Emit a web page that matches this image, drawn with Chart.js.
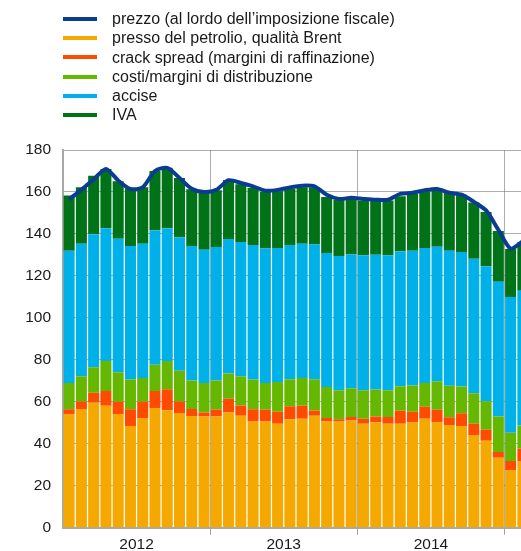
<!DOCTYPE html>
<html>
<head>
<meta charset="utf-8">
<script src="https://cdn.jsdelivr.net/npm/chart.js@4/dist/chart.umd.min.js"></script>
<style>
  html, body { margin: 0; padding: 0; overflow: hidden; background: #fff; }
  #wrap { position: relative; width: 521px; height: 551px; overflow: hidden; }
  #chart { position: absolute; left: 0; top: 0; }
  #legend { position: absolute; left: 63px; top: 9px; font-family: "Liberation Sans", Arial, sans-serif; font-size: 16px; color: #1a1a1a; }
  .item { height: 19.3px; line-height: 19.3px; white-space: nowrap; }
  .swatch { display: inline-block; width: 34px; height: 4px; vertical-align: middle; margin-right: 15px; position: relative; top: -1px; }
</style>
</head>
<body>
<div id="wrap">
  <canvas id="chart" width="529" height="551"></canvas>
  <div id="legend"></div>
</div>
<script>
// months Jan 2012 - Feb 2015 (last one cut by the picture edge)
let years = ['2012', '2013', '2014', '2015'];
let monthNames = ['gen', 'feb', 'mar', 'apr', 'mag', 'giu', 'lug', 'ago', 'set', 'ott', 'nov', 'dic'];
let nMonths = 38;

let brent = [54.2, 56.6, 59.5, 58.1, 54.2, 48.5, 52.3, 57.1, 56.0, 54.7, 53.2, 53.0,
             53.0, 54.9, 53.3, 50.6, 50.6, 49.5, 51.7, 51.9, 53.3, 50.6, 50.6, 51.1,
             49.5, 50.1, 49.5, 49.5, 50.1, 51.9, 50.4, 49.0, 48.5, 44.2, 41.4, 33.3,
             27.5, 31.8];
let crack = [2.3, 3.5, 4.8, 7.1, 5.8, 8.0, 7.7, 8.1, 10.0, 5.4, 3.4, 1.9,
             3.3, 6.5, 4.9, 5.9, 5.6, 5.8, 6.2, 6.2, 2.5, 1.7, 1.1, 1.6,
             2.4, 2.9, 3.2, 6.2, 5.2, 5.8, 5.8, 3.6, 6.0, 5.3, 5.3, 2.8,
             4.3, 5.9];
let distribuzione = [12.4, 12.1, 12.2, 14.2, 14.1, 14.1, 11.4, 12.4, 13.4, 14.7, 13.5, 14.0,
                     13.8, 12.1, 14.0, 14.1, 12.7, 14.1, 12.9, 13.3, 15.0, 14.7, 13.8, 13.8,
                     13.6, 12.9, 12.8, 11.7, 12.5, 11.3, 13.6, 15.1, 12.8, 14.6, 13.6, 16.9,
                     13.5, 11.0];
let accise = [63.1, 63.1, 63.3, 63.3, 63.6, 63.7, 63.9, 64.1, 63.3, 63.6, 64.2, 63.6,
              63.7, 64.1, 64.0, 64.1, 64.1, 63.9, 63.9, 63.9, 64.2, 63.9, 64.0, 63.7,
              64.3, 64.2, 64.3, 64.3, 64.2, 64.3, 64.1, 64.3, 64.1, 64.1, 64.3, 64.2,
              64.7, 64.2];
let iva = [26.3, 26.9, 27.9, 28.3, 27.4, 27.4, 26.9, 28.3, 28.9, 28.3, 27.0, 27.0,
           27.0, 28.1, 27.5, 27.2, 27.0, 27.0, 26.8, 26.9, 27.1, 26.7, 26.8, 26.6,
           26.1, 25.6, 26.1, 26.2, 27.1, 27.0, 27.2, 27.5, 27.3, 26.8, 25.9, 24.2,
           22.8, 23.2];
let prezzo = [156.5, 161.0, 166.0, 171.0, 165.5, 161.4, 162.2, 170.0, 171.5, 166.7, 161.5, 160.0,
              161.0, 165.6, 164.3, 162.7, 160.6, 161.0, 162.2, 163.0, 162.7, 158.7, 156.7, 157.2,
              156.7, 156.3, 156.3, 159.1, 159.6, 160.8, 161.4, 159.6, 158.7, 155.3, 151.2, 142.0,
              133.0, 136.5];

let yTicks = [0, 20, 40, 60, 80, 100, 120, 140, 160, 180];

let labels = [];
for (let i = 0; i < nMonths; i++) {
    labels.push(monthNames[i % 12] + ' ' + years[Math.floor(i / 12)]);
}

let gridColor = 'rgba(105, 105, 105, 0.55)';
let fontFamily = '"Liberation Sans", Arial, sans-serif';

function barSet(label, data, color) {
    return {
        type: 'bar',
        label: label,
        data: data,
        backgroundColor: color,
        borderWidth: 0,
        stack: 'comp',
        order: 1,
        barPercentage: 0.9,
        categoryPercentage: 1.0
    };
}

let datasets = [
    {
        type: 'line',
        label: 'prezzo (al lordo dell\u2019imposizione fiscale)',
        data: prezzo,
        borderColor: '#0a3c91',
        backgroundColor: '#0a3c91',
        borderWidth: 4,
        pointRadius: 0,
        tension: 0.25,
        stack: 'price',
        order: 0
    },
    barSet('presso del petrolio, qualit\u00e0 Brent', brent, '#f5a800'),
    barSet('crack spread (margini di raffinazione)', crack, '#ff4b00'),
    barSet('costi/margini di distribuzione', distribuzione, '#66b700'),
    barSet('accise', accise, '#00b0e8'),
    barSet('IVA', iva, '#007319')
];

let ctx = document.getElementById('chart').getContext('2d');
let chart = new Chart(ctx, {
    type: 'bar',
    data: { labels: labels, datasets: datasets },
    options: {
        responsive: false,
        animation: false,
        devicePixelRatio: 1,
        layout: { padding: { top: 150, left: 0, right: 0, bottom: 0 } },
        plugins: {
            legend: { display: false },
            tooltip: { enabled: false }
        },
        scales: {
            x: {
                stacked: true,
                z: 1,
                afterFit: function (scale) { scale.height = 23.3; },
                grid: {
                    offset: true,
                    drawTicks: true,
                    tickLength: 7,
                    lineWidth: 1,
                    color: function (c) {
                        return (c.index % 12 === 0 && c.index > 0) ? gridColor : 'rgba(0,0,0,0)';
                    },
                    tickColor: function (c) {
                        return (c.index % 12 === 0 && c.index > 0) ? '#a0a0a0' : 'rgba(0,0,0,0)';
                    }
                },
                border: { color: '#a8a8a8', width: 2 },
                ticks: {
                    autoSkip: false,
                    maxRotation: 0,
                    minRotation: 0,
                    padding: 1,
                    labelOffset: -6.13,
                    color: '#1a1a1a',
                    font: { family: fontFamily, size: 15.5 },
                    callback: function (value, index) {
                        return index % 12 === 6 ? years[Math.floor(index / 12)] : '';
                    }
                }
            },
            y: {
                stacked: true,
                z: 1,
                min: 0,
                max: 180,
                afterFit: function (scale) { scale.width = 63; },
                afterBuildTicks: function (scale) {
                    scale.ticks = yTicks.map(v => ({ value: v }));
                },
                grid: {
                    drawTicks: false,
                    color: gridColor,
                    lineWidth: 1
                },
                border: { color: '#a8a8a8', width: 2 },
                ticks: {
                    padding: 12,
                    color: '#1a1a1a',
                    font: { family: fontFamily, size: 15.5 }
                }
            }
        }
    }
});

// legend, one entry per line, taken from the chart's own datasets
let legendDiv = document.getElementById('legend');
chart.data.datasets.forEach(function (ds) {
    let row = document.createElement('div');
    row.className = 'item';
    let sw = document.createElement('span');
    sw.className = 'swatch';
    sw.style.background = ds.type === 'line' ? ds.borderColor : ds.backgroundColor;
    row.appendChild(sw);
    row.appendChild(document.createTextNode(ds.label));
    legendDiv.appendChild(row);
});
</script>
</body>
</html>
